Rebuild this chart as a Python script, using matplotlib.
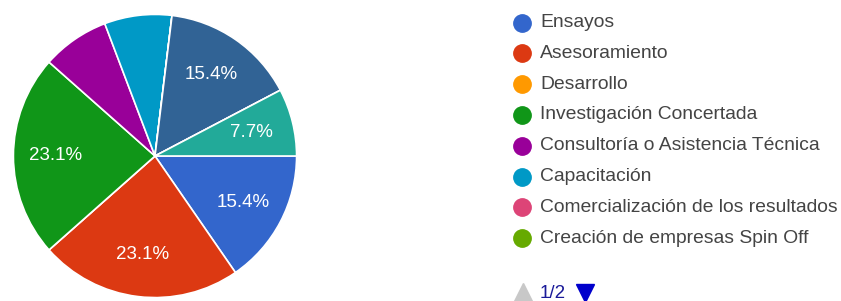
import matplotlib
matplotlib.use("Agg")
import matplotlib.pyplot as plt
import numpy as np

plt.rcParams['font.family'] = ['Liberation Sans', 'DejaVu Sans']

# categorias da legenda (pagina 1/2) e respostas
categorias = ["Ensayos", "Asesoramiento", "Desarrollo", "Investigación Concertada",
              "Consultoría o Asistencia Técnica", "Capacitación",
              "Comercialización de los resultados", "Creación de empresas Spin Off"]
# as fatias 9-12 so aparecem na pagina 2/2 da legenda
respostas = [2, 3, 0, 3, 1, 1, 0, 0, 0, 2, 0, 1]
cores = ["#3366cc", "#dc3912", "#ff9900", "#109618", "#990099", "#0099c6",
         "#dd4477", "#66aa00", "#b82e2e", "#316395", "#994499", "#22aa99"]
mostrar_pct = [True, True, False, True, False, False, False, False, False, True, False, True]

W, H = 841, 301
fig = plt.figure(figsize=(W/100, H/100), dpi=100)

# pizza
cx, cy, r = 155, 156, 143
ax = fig.add_axes([(cx-r)/W, (H-cy-r)/H, 2*r/W, 2*r/H])
total = sum(respostas)

wedges, textos = ax.pie(respostas, colors=cores, startangle=0, counterclock=False,
                        wedgeprops=dict(edgecolor="white", linewidth=1.2), radius=1)
ax.set_xlim(-1.01, 1.01)
ax.set_ylim(-1.01, 1.01)
ax.set_aspect("auto")
ax.axis("off")

for w, v, m in zip(wedges, respostas, mostrar_pct):
    if not m or v == 0:
        continue
    ang = np.deg2rad((w.theta1 + w.theta2) / 2)
    d = 0.7
    ax.text(d*np.cos(ang), d*np.sin(ang), "%.1f%%" % (100.0*v/total),
            ha="center", va="center", color="white", fontsize=13.5)

# legenda
lg = fig.add_axes([0, 0, 1, 1])
lg.set_xlim(0, W)
lg.set_ylim(H, 0)
lg.axis("off")
lg.patch.set_alpha(0)
for i, nome in enumerate(categorias):
    y = 22.5 + 30.8*i
    lg.plot(522, y, "o", ms=12.5, color=cores[i], mec=cores[i])
    lg.text(540, y, nome, va="center", ha="left", fontsize=13.9, color="#444444")

lg.plot(523, 293, "^", ms=14, color="#c8c8c8")
lg.text(540, 293, "1/2", va="center", ha="left", fontsize=13.5, color="#1a1a99")
lg.plot(585, 293, "v", ms=13, color="#0000cc")

fig.savefig("out.png", dpi=100)
